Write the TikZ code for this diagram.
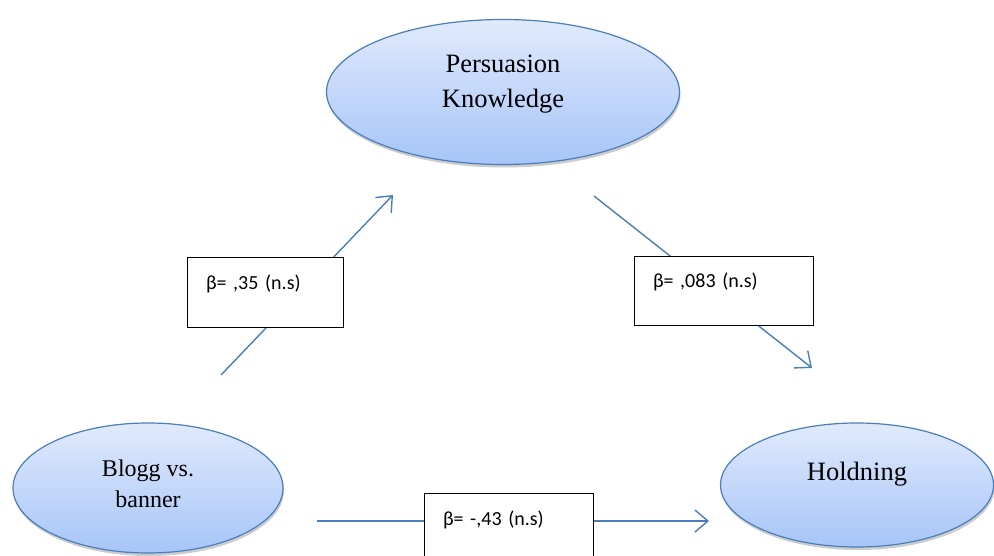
\documentclass[tikz,border=0pt]{standalone}
\usepackage{fontspec}
\setmainfont{Liberation Serif}
\newfontfamily\coeffont{Carlito}
\usetikzlibrary{arrows.meta,shapes.geometric,shadows}
\definecolor{officeblue}{HTML}{4A7EBB}
\definecolor{ovaltop}{HTML}{E0EAFC}
\definecolor{ovalbottom}{HTML}{A7C5F8}

\begin{document}
\begin{tikzpicture}[x=1pt,y=-1pt,
  construct/.style={ellipse,draw=officeblue,line width=1.2pt,top color=ovaltop,bottom color=ovalbottom,
    inner sep=0pt,align=center,font=\fontsize{26.5}{35}\selectfont,
    drop shadow={shadow xshift=1pt,shadow yshift=-3pt,opacity=0.2,fill=black}},
  coefbox/.style={draw=black,fill=white,line width=1pt,inner xsep=19pt,inner ysep=0pt,
    text height=32pt,text depth=37pt,align=left,font=\coeffont\fontsize{20}{24}\selectfont},
  effect/.style={draw=officeblue,line width=1.4pt,-{Straight Barb[length=13pt,width=22pt]}}]
\clip (0,0) rectangle (994,556);
\useasboundingbox (0,0) rectangle (994,556);

% the three constructs
\node[construct,minimum width=353pt,minimum height=145pt,text height=32pt,text depth=0pt] (pk) at (503,92) {Persuasion\\Knowledge};
\node[construct,minimum width=270pt,minimum height=130pt,text height=38pt,text depth=0pt,
  font=\fontsize{24}{31}\selectfont] (blogg) at (148,488) {Blogg vs.\\banner};
\node[construct,minimum width=273pt,minimum height=124pt,text height=17pt,text depth=27pt] (hold) at (857,485) {Holdning};

% free ends of the paths
\coordinate (aS) at (221,375); \coordinate (aE) at (393,195);
\coordinate (bS) at (594,196); \coordinate (bE) at (812,368);
\coordinate (cS) at (317,521); \coordinate (cE) at (709,521);

\draw[effect] (aS) -- (aE);
\draw[effect] (bS) -- (bE);
\draw[effect] (cS) -- (cE);

% coefficients, boxes lie on top of the paths
\node[coefbox,text width=118pt] (betaA) at (265,292.5) {β= ,35 (n.s)};
\node[coefbox,text width=141pt,text height=31pt] (betaB) at (723.5,291) {β= ,083 (n.s)};
\node[coefbox,text width=131pt] (betaC) at (508.5,527.5) {β= -,43 (n.s)};

\end{tikzpicture}
\end{document}
